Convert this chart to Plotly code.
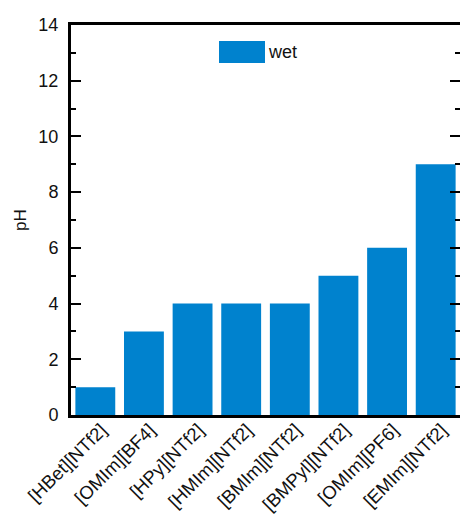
import plotly.graph_objects as go

# pH of each ionic liquid (wet)
liquids = ["[HBet][NTf2]", "[OMIm][BF4]", "[HPy][NTf2]", "[HMIm][NTf2]",
           "[BMIm][NTf2]", "[BMPyl][NTf2]", "[OMIm][PF6]", "[EMIm][NTf2]"]
ph_wet = [1, 3, 4, 4, 4, 5, 6, 9]
y_ticks = [0, 2, 4, 6, 8, 10, 12, 14]

BLUE = "#0082CE"
FONT = "Liberation Sans, Arial, sans-serif"

fig = go.Figure()
fig.add_trace(go.Bar(x=liquids, y=ph_wet, marker=dict(color=BLUE, line=dict(width=0)),
                     name="wet", showlegend=False))
# invisible trace carrying the right-side axis ticks
fig.add_trace(go.Scatter(x=[liquids[0]], y=[0], yaxis="y2", mode="markers",
                         marker=dict(opacity=0), showlegend=False, hoverinfo="skip"))

W, H = 460, 516
ML, MR, MT, MB = 71, 0, 25, 101

yax = dict(range=[0, 14], tickvals=y_ticks, ticks="inside", ticklen=10, tickwidth=2,
           tickcolor="black", minor=dict(dtick=1, ticks="inside", ticklen=5, tickwidth=2,
                                         tickcolor="black"),
           showgrid=False, zeroline=False, automargin=False)

fig.update_layout(
    width=W, height=H,
    margin=dict(l=ML, r=MR, t=MT, b=MB),
    plot_bgcolor="white", paper_bgcolor="white",
    font=dict(family=FONT, color="#111111"),
    bargap=0.18,
    xaxis=dict(range=[-0.5, 7.5], showline=True, linewidth=3, linecolor="black",
               mirror=True, ticks="", tickangle=-45, automargin=False,
               ticklabelstandoff=-6, ticklabelshift=6,
               tickfont=dict(size=18.5, family=FONT, color="#111111"), showgrid=False),
    yaxis=dict(**yax, showline=True, linewidth=3, linecolor="black", mirror=False,
               tickfont=dict(size=18, family=FONT, color="#111111"),
               ticklabelstandoff=6),
    yaxis2=dict(**yax, overlaying="y", side="right", showline=False,
                showticklabels=False),
)

# y-axis title
plot_w = W - ML - MR
fig.add_annotation(text="pH", xref="paper", yref="paper",
                   x=(20 - ML) / plot_w, y=0.5, textangle=-90, showarrow=False,
                   font=dict(size=17, family=FONT, color="#111111"),
                   xanchor="center", yanchor="middle")

# legend: colour swatch and label
plot_h = H - MT - MB
def px_x(v):
    return (v - ML) / plot_w
def px_y(v):
    return (H - MB - v) / plot_h
fig.add_shape(type="rect", xref="paper", yref="paper",
              x0=px_x(219), x1=px_x(265), y0=px_y(63), y1=px_y(41),
              fillcolor=BLUE, line=dict(width=0))
fig.add_annotation(text="wet", xref="paper", yref="paper",
                   x=px_x(266), y=px_y(52), showarrow=False,
                   xanchor="left", yanchor="middle",
                   font=dict(size=18, family=FONT, color="#111111"))

fig.write_html("out.html")
